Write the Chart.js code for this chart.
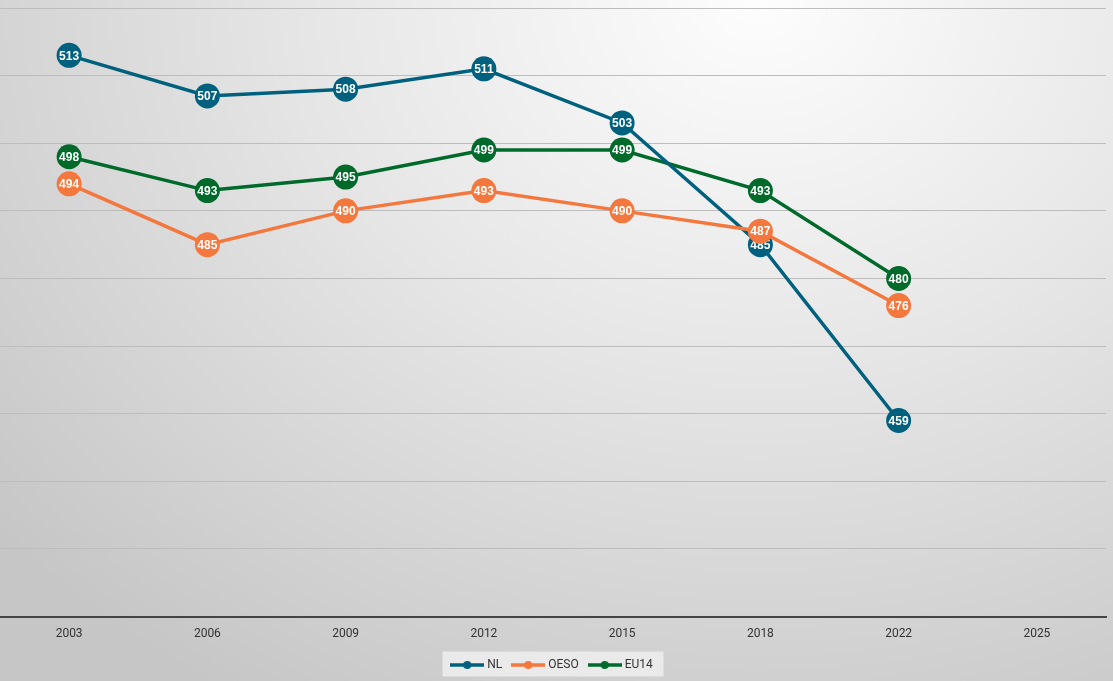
<!DOCTYPE html>
<html>
<head>
<meta charset="utf-8">
<script src="https://cdn.jsdelivr.net/npm/chart.js@4.4.1/dist/chart.umd.min.js"></script>
<style>
  html, body { margin: 0; padding: 0; }
  body {
    width: 1113px; height: 681px; overflow: hidden;
    background: radial-gradient(ellipse 90% 120% at 68% 0%, #fdfdfd 0%, #e6e6e6 45%, #c6c6c6 100%);
  }
  #wrap { width: 1113px; height: 681px; }
</style>
</head>
<body>
<div id="wrap"><canvas id="chart"></canvas></div>
<script>
// Data
var years = ['2003', '2006', '2009', '2012', '2015', '2018', '2022', '2025'];
var nl = [513, 507, 508, 511, 503, 485, 459, null];
var oeso = [494, 485, 490, 493, 490, 487, 476, null];
var eu14 = [498, 493, 495, 499, 499, 493, 480, null];

var colNL = '#00617f', colOESO = '#f4773d', colEU = '#006a2b';

// little line+dot icon for the legend
function legendIcon(color) {
  var c = document.createElement('canvas');
  c.width = 34; c.height = 10;
  var g = c.getContext('2d');
  g.strokeStyle = color; g.lineWidth = 3.5;
  g.beginPath(); g.moveTo(0, 5); g.lineTo(34, 5); g.stroke();
  g.fillStyle = color;
  g.beginPath(); g.arc(17, 5, 4, 0, Math.PI * 2); g.fill();
  return c;
}

// white value labels inside the points
var pointLabels = {
  id: 'pointLabels',
  afterDatasetDraw: function (chart, args) {
    var ctx = chart.ctx;
    var meta = args.meta;
    var data = chart.data.datasets[args.index].data;
    ctx.save();
    ctx.fillStyle = '#ffffff';
    ctx.font = 'bold 12px "Liberation Sans", Arial, sans-serif';
    ctx.textAlign = 'center';
    ctx.textBaseline = 'middle';
    meta.data.forEach(function (pt, i) {
      if (data[i] == null) return;
      ctx.fillText(String(data[i]), pt.x, pt.y + 1);
    });
    ctx.restore();
  }
};

// grey box behind the legend
var legendBox = {
  id: 'legendBox',
  beforeDraw: function (chart) {
    var l = chart.legend;
    if (!l) return;
    var w = 221, h = 25;
    var x = (l.left + l.right) / 2 - w / 2;
    var y = (l.top + l.bottom) / 2 - h / 2;
    chart.ctx.save();
    chart.ctx.fillStyle = 'rgba(238,238,238,0.85)';
    chart.ctx.fillRect(x, y, w, h);
    chart.ctx.restore();
  }
};

function ds(label, data, color, order) {
  return {
    label: label,
    data: data,
    borderColor: color,
    backgroundColor: color,
    borderWidth: 3.5,
    pointRadius: 12.5,
    pointHoverRadius: 12.5,
    pointBorderWidth: 0,
    pointBackgroundColor: color,
    tension: 0,
    order: order
  };
}

new Chart(document.getElementById('chart'), {
  type: 'line',
  data: {
    labels: years,
    datasets: [
      ds('NL', nl, colNL, 1),
      ds('OESO', oeso, colOESO, 0),
      ds('EU14', eu14, colEU, 2)
    ]
  },
  options: {
    responsive: true,
    maintainAspectRatio: false,
    animation: false,
    layout: { autoPadding: false, padding: { top: 8, right: 7, left: 0, bottom: 0 } },
    scales: {
      x: {
        offset: true,
        grid: { display: false },
        border: { color: '#444444', width: 2 },
        ticks: { color: '#333333', font: { size: 12, family: 'Roboto, Arial, sans-serif' }, padding: 2 },
        afterFit: function (axis) { axis.height += 4; }
      },
      y: {
        min: 430,
        max: 520,
        ticks: { display: false, stepSize: 10, padding: 0 },
        grid: { color: '#bdbdbd', lineWidth: 1, drawTicks: false },
        border: { display: false },
        afterFit: function (axis) { axis.width = 0; }
      }
    },
    plugins: {
      tooltip: { enabled: false },
      legend: {
        position: 'bottom',
        labels: {
          usePointStyle: true,
          pointStyleWidth: 28,
          color: '#333333',
          font: { size: 12, family: 'Roboto, Arial, sans-serif' },
          padding: 12,
          generateLabels: function (chart) {
            return chart.data.datasets.map(function (d, i) {
              return {
                text: d.label,
                pointStyle: legendIcon(d.borderColor),
                fillStyle: d.borderColor,
                strokeStyle: d.borderColor,
                lineWidth: 0,
                hidden: false,
                datasetIndex: i,
                fontColor: '#333333'
              };
            });
          }
        }
      }
    }
  },
  plugins: [legendBox, pointLabels]
});
</script>
</body>
</html>
